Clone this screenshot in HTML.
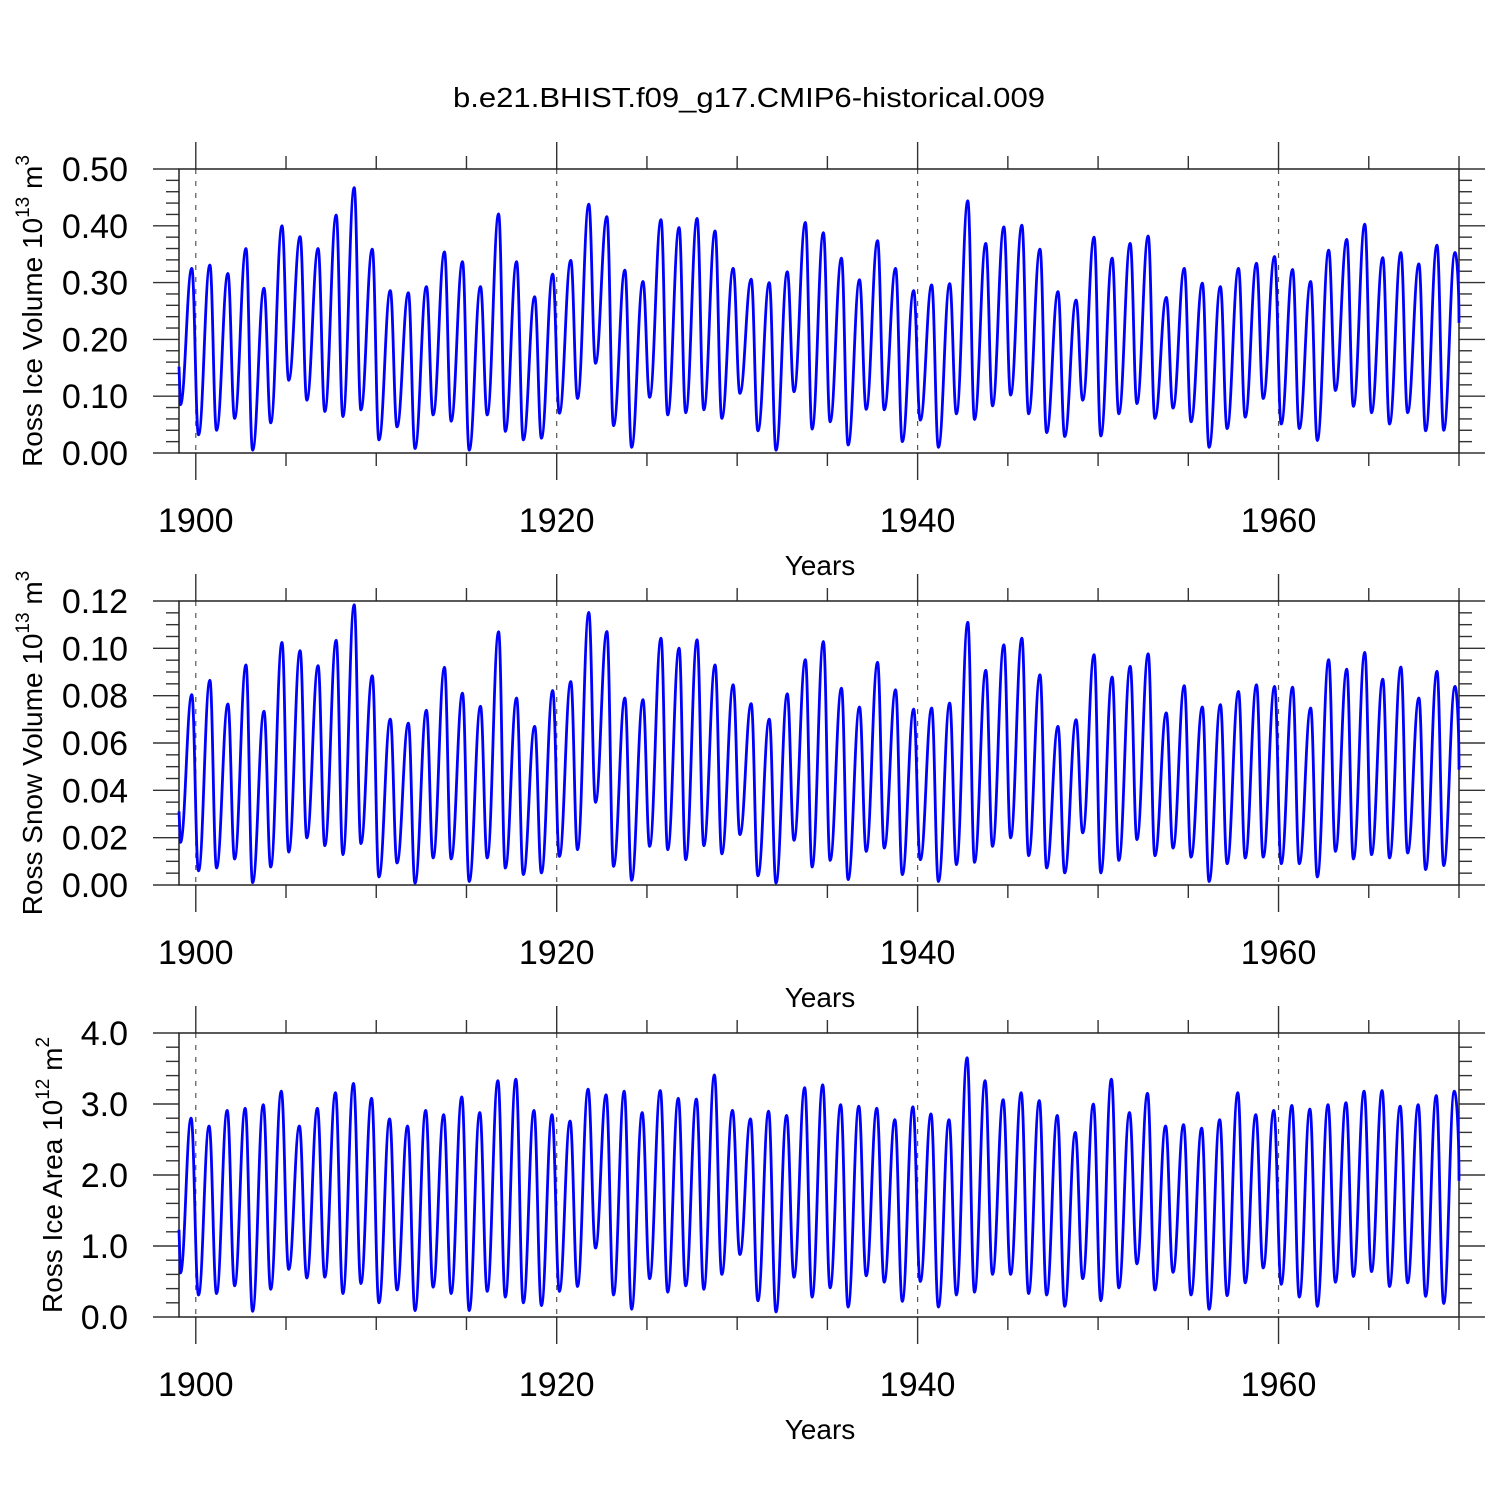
<!DOCTYPE html>
<html><head><meta charset="utf-8"><style>
html,body{margin:0;padding:0;background:#fff;}
svg{display:block;font-family:"Liberation Sans",sans-serif;}
</style></head><body>
<svg id="chart" width="1500" height="1500" viewBox="0 0 1500 1500" xmlns="http://www.w3.org/2000/svg">
<rect width="1500" height="1500" fill="#fff"/>
<text x="749" y="107" font-size="28" text-anchor="middle" textLength="592" lengthAdjust="spacingAndGlyphs">b.e21.BHIST.f09_g17.CMIP6-historical.009</text>
<g id="panels"></g>
</svg>
<script>
// ---- data ----
const startYear = 1899;
const xTickYears = [1900, 1920, 1940, 1960];
const xTickLabels = ["1900", "1920", "1940", "1960"];

const iceVolStart = 0.152;
const iceVolEnd = 0.229;
const iceVolTroughs = [0.085,0.032,0.040,0.061,0.005,0.053,0.128,0.093,0.073,0.064,0.076,0.023,0.046,0.008,0.067,0.056,0.005,0.067,0.038,0.023,0.026,0.070,0.096,0.158,0.048,0.010,0.098,0.067,0.071,0.076,0.061,0.105,0.039,0.005,0.108,0.042,0.055,0.014,0.077,0.076,0.020,0.058,0.010,0.069,0.059,0.083,0.102,0.069,0.036,0.029,0.093,0.030,0.069,0.087,0.061,0.079,0.055,0.010,0.043,0.063,0.096,0.051,0.043,0.022,0.110,0.082,0.071,0.051,0.071,0.039,0.040];
const iceVolPeaks = [0.325,0.331,0.316,0.360,0.290,0.400,0.381,0.360,0.419,0.467,0.359,0.286,0.282,0.293,0.354,0.337,0.293,0.421,0.337,0.275,0.315,0.339,0.438,0.416,0.322,0.302,0.411,0.397,0.413,0.391,0.325,0.306,0.300,0.319,0.406,0.388,0.343,0.305,0.374,0.325,0.286,0.296,0.298,0.444,0.369,0.398,0.401,0.359,0.284,0.269,0.380,0.343,0.369,0.382,0.274,0.325,0.299,0.293,0.325,0.334,0.346,0.323,0.302,0.357,0.376,0.403,0.344,0.353,0.333,0.366,0.353];

const snowStart = 0.0311;
const snowEnd = 0.0487;
const snowTroughs = [0.0180,0.0060,0.0072,0.0110,0.0010,0.0076,0.0139,0.0199,0.0166,0.0128,0.0175,0.0034,0.0093,0.0008,0.0114,0.0110,0.0015,0.0114,0.0072,0.0044,0.0051,0.0121,0.0149,0.0349,0.0079,0.0020,0.0163,0.0149,0.0107,0.0166,0.0132,0.0213,0.0039,0.0008,0.0189,0.0076,0.0104,0.0023,0.0142,0.0156,0.0044,0.0107,0.0015,0.0086,0.0096,0.0163,0.0199,0.0124,0.0072,0.0051,0.0220,0.0051,0.0104,0.0192,0.0124,0.0156,0.0118,0.0015,0.0090,0.0114,0.0118,0.0090,0.0090,0.0034,0.0142,0.0110,0.0128,0.0114,0.0135,0.0065,0.0082];
const snowPeaks = [0.0804,0.0865,0.0765,0.0930,0.0734,0.1025,0.0990,0.0927,0.1034,0.1184,0.0884,0.0701,0.0684,0.0738,0.0920,0.0811,0.0755,0.1070,0.0790,0.0670,0.0822,0.0860,0.1152,0.1071,0.0790,0.0783,0.1043,0.1001,0.1036,0.0930,0.0846,0.0766,0.0701,0.0808,0.0952,0.1029,0.0832,0.0752,0.0941,0.0825,0.0743,0.0748,0.0769,0.1110,0.0907,0.1015,0.1043,0.0888,0.0670,0.0698,0.0973,0.0879,0.0924,0.0977,0.0727,0.0842,0.0752,0.0762,0.0818,0.0846,0.0839,0.0836,0.0748,0.0952,0.0912,0.0983,0.0870,0.0921,0.0790,0.0903,0.0839];

const areaStart = 1.23;
const areaEnd = 1.92;
const areaTroughs = [0.62,0.31,0.33,0.44,0.08,0.39,0.67,0.55,0.56,0.33,0.47,0.20,0.38,0.09,0.42,0.33,0.09,0.36,0.28,0.20,0.16,0.36,0.43,0.97,0.31,0.11,0.54,0.35,0.44,0.39,0.60,0.88,0.23,0.07,0.56,0.28,0.41,0.14,0.58,0.49,0.22,0.50,0.14,0.31,0.35,0.60,0.60,0.33,0.31,0.15,0.54,0.23,0.41,0.75,0.38,0.63,0.31,0.11,0.30,0.48,0.69,0.46,0.28,0.15,0.49,0.57,0.64,0.43,0.48,0.29,0.19];
const areaPeaks = [2.80,2.69,2.91,2.94,2.99,3.18,2.69,2.94,3.16,3.29,3.08,2.79,2.69,2.91,2.85,3.10,2.88,3.33,3.35,2.91,2.85,2.76,3.21,3.13,3.18,2.88,3.19,3.08,3.07,3.41,2.91,2.79,2.90,2.84,3.23,3.27,2.99,2.97,2.94,2.78,2.96,2.86,2.78,3.65,3.33,3.06,3.16,3.05,2.84,2.60,3.00,3.35,2.88,3.15,2.69,2.71,2.66,2.78,3.16,2.85,2.91,2.98,2.93,2.99,3.02,3.18,3.19,2.97,2.99,3.12,3.18];

const volTickLabels = ["0.00","0.10","0.20","0.30","0.40","0.50"];
const snowTickLabels = ["0.00","0.02","0.04","0.06","0.08","0.10","0.12"];
const areaTickLabels = ["0.0","1.0","2.0","3.0","4.0"];

// ---- drawing ----
const NS = "http://www.w3.org/2000/svg";
const X0 = 179, X1 = 1459, T0 = 1899.07, T1 = 1970.0;
function xScale(t){ return X0 + (t - T0) / (T1 - T0) * (X1 - X0); }
function mk(tag, attrs, parent){ const e = document.createElementNS(NS, tag); for (const k in attrs) e.setAttribute(k, attrs[k]); parent.appendChild(e); return e; }

const panelsG = document.getElementById("panels");
const panels = [
  {id:"ice-volume", top:169, bottom:453, ymin:0, ymax:0.5, labels:volTickLabels, minorStep:0.02, start:iceVolStart, end:iceVolEnd, troughs:iceVolTroughs, peaks:iceVolPeaks, peakOff:0.78, troughOff:0.15, title:["Ross Ice Volume 10","13"," m","3"], titleX:32, titleY:311},
  {id:"snow-volume", top:601, bottom:885, ymin:0, ymax:0.12, labels:snowTickLabels, minorStep:0.005, start:snowStart, end:snowEnd, troughs:snowTroughs, peaks:snowPeaks, peakOff:0.78, troughOff:0.15, title:["Ross Snow Volume 10","13"," m","3"], titleX:32, titleY:743},
  {id:"ice-area", top:1033, bottom:1317, ymin:0, ymax:4.0, labels:areaTickLabels, minorStep:0.2, start:areaStart, end:areaEnd, troughs:areaTroughs, peaks:areaPeaks, peakOff:0.74, troughOff:0.15, title:["Ross Ice Area 10","12"," m","2"], titleX:52, titleY:1175}
];

panels.forEach(p => {
  const g = mk("g", {}, panelsG);
  
  
  const yScale = v => p.bottom - (v - p.ymin) / (p.ymax - p.ymin) * (p.bottom - p.top);

  // dashed grid at major years
  xTickYears.forEach(yr => {
    const l = mk("line", {x1:xScale(yr), x2:xScale(yr), y1:p.top, y2:p.bottom, stroke:"#555", "stroke-width":1.2, "stroke-dasharray":"5,7"}, g);
    
    
  });

  // x ticks (minor every 5 years, major at labeled years)
  for (let yr = 1900; yr <= 1970; yr += 5) {
    const major = xTickYears.includes(yr);
    const len = major ? 27 : 13;
    const x = xScale(yr);
    mk("line", {x1:x, x2:x, y1:p.top - len, y2:p.top, stroke:"#333", "stroke-width":1.4}, g);
    mk("line", {x1:x, x2:x, y1:p.bottom, y2:p.bottom + len, stroke:"#333", "stroke-width":1.4}, g);
  }
  // y ticks
  const nMinor = Math.round((p.ymax - p.ymin) / p.minorStep);
  const majorStep = (p.ymax - p.ymin) / (p.labels.length - 1);
  for (let i = 0; i <= nMinor; i++) {
    const v = p.ymin + i * p.minorStep;
    const y = yScale(v);
    const r = v / majorStep;
    const major = Math.abs(r - Math.round(r)) < 1e-6;
    const len = major ? 26 : 13;
    mk("line", {x1:X0 - len, x2:X0, y1:y, y2:y, stroke:"#333", "stroke-width":1.4}, g);
    mk("line", {x1:X1, x2:X1 + len, y1:y, y2:y, stroke:"#333", "stroke-width":1.4}, g);
  }
  // frame
  const fr = mk("rect", {x:X0, y:p.top, width:X1 - X0, height:p.bottom - p.top, fill:"none", stroke:"#222", "stroke-width":1.5}, g);
  
  

  // y tick labels
  p.labels.forEach((lab, i) => {
    const t = mk("text", {x:128, y:yScale(p.ymin + i * majorStep) + 12, "font-size":34, "text-anchor":"end"}, g);
    t.textContent = lab;
    
    
  });
  // x tick labels
  xTickYears.forEach((yr, i) => {
    const t = mk("text", {x:xScale(yr), y:p.bottom + 79, "font-size":34, "text-anchor":"middle"}, g);
    t.textContent = xTickLabels[i];
    
    
  });
  // x axis title
  const xt = mk("text", {x:820, y:p.bottom + 122, "font-size":28, "text-anchor":"middle"}, g);
  xt.textContent = "Years";
  
  
  // y axis title
  const yt = mk("text", {x:0, y:0, "font-size":28, "text-anchor":"middle", transform:`translate(${p.titleX + 10},${p.titleY}) rotate(-90)`}, g);
  
  
  p.title.forEach((s, i) => {
    const ts = mk("tspan", {}, yt);
    if (i % 2 === 1) { ts.setAttribute("font-size", "19"); ts.setAttribute("dy", "-13"); }
    else if (i > 0) { ts.setAttribute("dy", "13"); }
    ts.textContent = s;
  });

  // series points
  const pts = [[T0, p.start]];
  for (let i = 0; i < p.peaks.length; i++) {
    const yr = startYear + i;
    pts.push([yr + p.troughOff, p.troughs[i]]);
    pts.push([yr + p.peakOff, p.peaks[i]]);
  }
  pts.push([T1, p.end]);
  const P = pts.map(q => [xScale(q[0]), yScale(q[1])]);
  let d = `M${P[0][0].toFixed(1)},${P[0][1].toFixed(1)} L${P[1][0].toFixed(1)},${P[1][1].toFixed(1)}`;
  for (let i = 1; i < P.length - 2; i++) {
    const a = P[i], b = P[i + 1], dx = (b[0] - a[0]) / 2.4;
    d += ` C${(a[0] + dx).toFixed(1)},${a[1].toFixed(1)} ${(b[0] - dx).toFixed(1)},${b[1].toFixed(1)} ${b[0].toFixed(1)},${b[1].toFixed(1)}`;
  }
  const a = P[P.length - 2], b = P[P.length - 1];
  d += ` C${(a[0] + (b[0]-a[0])/2).toFixed(1)},${a[1].toFixed(1)} ${b[0].toFixed(1)},${((a[1]+b[1])/2).toFixed(1)} ${b[0].toFixed(1)},${b[1].toFixed(1)}`;
  const path = mk("path", {d:d, fill:"none", stroke:"#0000ff", "stroke-width":2.8, "stroke-linejoin":"round"}, g);
  
  
});
</script>
</body></html>
